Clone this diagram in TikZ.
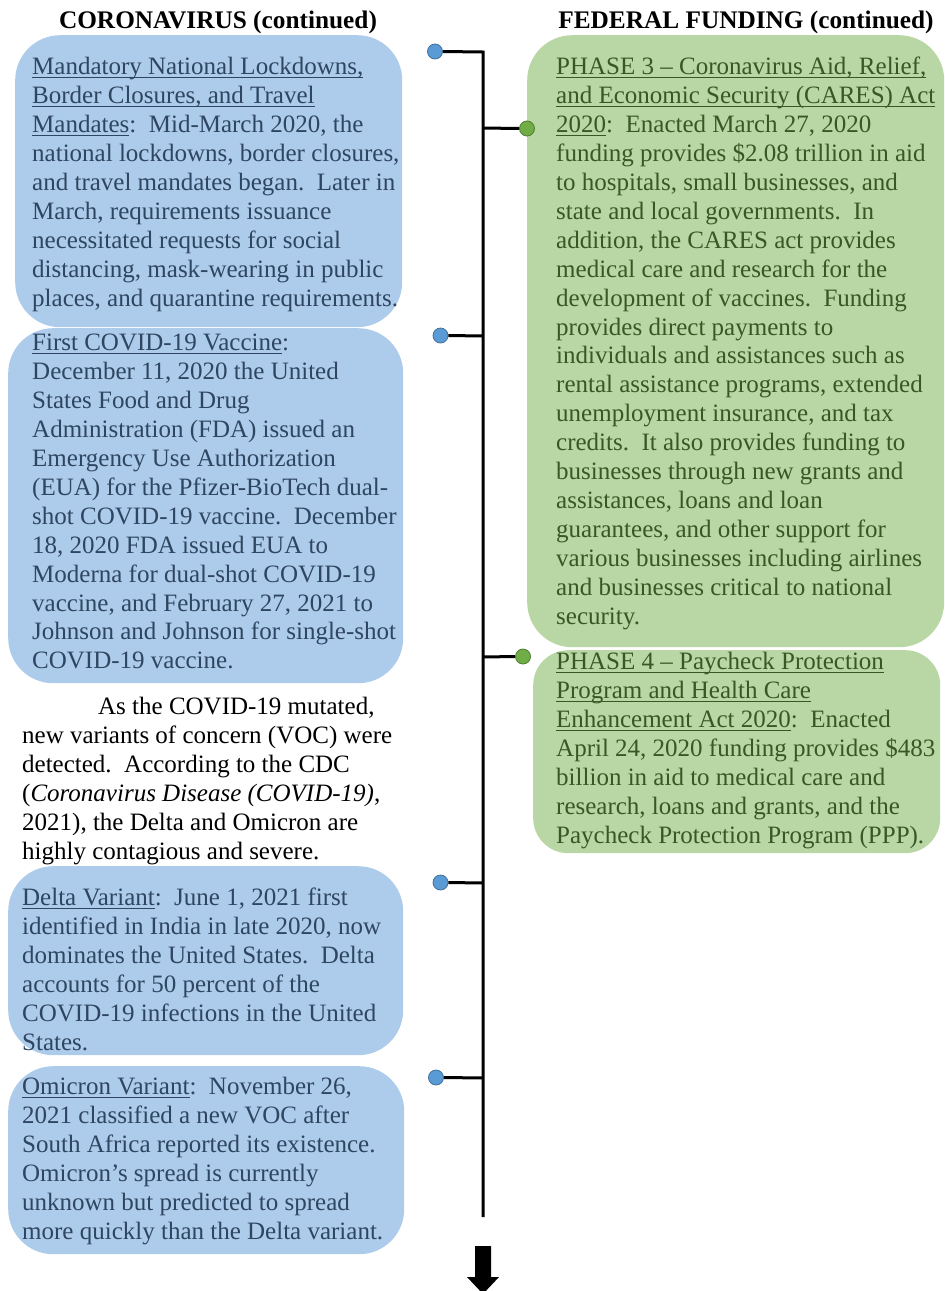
\documentclass[tikz,border=0pt]{standalone}
\usepackage{fontspec}
\setmainfont{Liberation Serif}
\definecolor{boxblue}{HTML}{ADCBEA}
\definecolor{boxgreen}{HTML}{B9D7A4}
\definecolor{txtblue}{HTML}{2E4661}
\definecolor{txtgreen}{HTML}{385723}
\definecolor{dotblue}{HTML}{5B9BD5}
\definecolor{dotblueline}{HTML}{41719C}
\definecolor{dotgreen}{HTML}{70AD47}
\definecolor{dotgreenline}{HTML}{507E32}
\newcommand\myul[1]{\setbox0\hbox{#1}\rlap{\rule[-3.5pt]{\wd0}{1.1pt}}\box0}
\tikzset{
  bluebox/.style={fill=boxblue, draw=none, rounded corners=45pt, anchor=north west, inner sep=0pt},
  greenbox/.style={fill=boxgreen, draw=none, rounded corners=45pt, anchor=north west, inner sep=0pt},
  bodytext/.style={anchor=north west, inner sep=0pt, align=left, font=\fontsize{25}{28.9}\selectfont},
  headtext/.style={anchor=base, inner sep=0pt, font=\fontsize{25.3}{28.9}\selectfont\bfseries},
  bdot/.style={circle, fill=dotblue, draw=dotblueline, line width=0.8pt, minimum size=15pt, inner sep=0pt},
  gdot/.style={circle, fill=dotgreen, draw=dotgreenline, line width=0.8pt, minimum size=15pt, inner sep=0pt},
  tl/.style={line width=3pt, black},
}
\begin{document}
\begin{tikzpicture}[x=1pt,y=-1pt]
\useasboundingbox (0,0) rectangle (945,1291);
% headers
\node[headtext] (h1) at (218,28) {CORONAVIRUS (continued)};
\node[headtext] (h2) at (746,28) {FEDERAL FUNDING (continued)};
% boxes
\node[bluebox, minimum width=387pt, minimum height=292pt] (b1) at (15,35) {};
\node[bluebox, minimum width=395pt, minimum height=355pt] (b2) at (8,328) {};
\node[bluebox, minimum width=395pt, minimum height=189pt] (b3) at (8,866) {};
\node[bluebox, minimum width=396pt, minimum height=188pt] (b4) at (8,1066) {};
\node[greenbox, minimum width=417pt, minimum height=612pt] (g1) at (527,35) {};
\node[greenbox, rounded corners=35pt, minimum width=407pt, minimum height=203pt] (g2) at (533,650) {};
% texts
\node[bodytext, text=txtblue] (t1) at (32,54.5) {\strut\myul{Mandatory National Lockdowns,}\\
\myul{Border Closures, and Travel}\\
\myul{Mandates}:\ \ Mid-March 2020, the\\
national lockdowns, border closures,\\
and travel mandates began.\ \ Later in\\
March, requirements issuance\\
necessitated requests for social\\
distancing, mask-wearing in public\\
places, and quarantine requirements.};
\node[bodytext, text=txtblue] (t2) at (32,330.5) {\strut\myul{First COVID-19 Vaccine}:\\
December 11, 2020 the United\\
States Food and Drug\\
Administration (FDA) issued an\\
Emergency Use Authorization\\
(EUA) for the Pfizer-BioTech dual-\\
shot COVID-19 vaccine.\ \ December\\
18, 2020 FDA issued EUA to\\
Moderna for dual-shot COVID-19\\
vaccine, and February 27, 2021 to\\
Johnson and Johnson for single-shot\\
COVID-19 vaccine.};
\node[bodytext, text=black] (t3) at (22,694.5) {\strut\hspace*{76pt}As the COVID-19 mutated,\\
new variants of concern (VOC) were\\
detected.\ \ According to the CDC\\
(\textit{Coronavirus Disease (COVID-19)},\\
2021), the Delta and Omicron are\\
highly contagious and severe.};
\node[bodytext, text=txtblue] (t4) at (22,885.5) {\strut\myul{Delta Variant}:\ \ June 1, 2021 first\\
identified in India in late 2020, now\\
dominates the United States.\ \ Delta\\
accounts for 50 percent of the\\
COVID-19 infections in the United\\
States.};
\node[bodytext, text=txtblue] (t5) at (22,1074.5) {\strut\myul{Omicron Variant}:\ \ November 26,\\
2021 classified a new VOC after\\
South Africa reported its existence.\\
Omicron’s spread is currently\\
unknown but predicted to spread\\
more quickly than the Delta variant.};
\node[bodytext, text=txtgreen] (t6) at (556,54.5) {\strut\myul{PHASE 3 – Coronavirus Aid, Relief,}\\
\myul{and Economic Security (CARES) Act}\\
\myul{2020}:\ \ Enacted March 27, 2020\\
funding provides \$2.08 trillion in aid\\
to hospitals, small businesses, and\\
state and local governments.\ \ In\\
addition, the CARES act provides\\
medical care and research for the\\
development of vaccines.\ \ Funding\\
provides direct payments to\\
individuals and assistances such as\\
rental assistance programs, extended\\
unemployment insurance, and tax\\
credits.\ \ It also provides funding to\\
businesses through new grants and\\
assistances, loans and loan\\
guarantees, and other support for\\
various businesses including airlines\\
and businesses critical to national\\
security.};
\node[bodytext, text=txtgreen] (t7) at (556,649.5) {\strut\myul{PHASE 4 – Paycheck Protection}\\
\myul{Program and Health Care}\\
\myul{Enhancement Act 2020}:\ \ Enacted\\
April 24, 2020 funding provides \$483\\
billion in aid to medical care and\\
research, loans and grants, and the\\
Paycheck Protection Program (PPP).};
% timeline
\coordinate (j1) at (483,52);
\coordinate (j2) at (483,128);
\coordinate (j3) at (483,336);
\coordinate (j4) at (483,657);
\coordinate (j5) at (483,883);
\coordinate (j6) at (483,1078);
\coordinate (jend) at (483,1217);
\node[bdot] (d1) at (435,51.5) {};
\node[gdot] (d2) at (527,128.5) {};
\node[bdot] (d3) at (440.5,335.5) {};
\node[gdot] (d4) at (523,656.5) {};
\node[bdot] (d5) at (440.5,882.5) {};
\node[bdot] (d6) at (436,1077.5) {};
\draw[tl] (d1.east) -- (j1) -- (jend);
\draw[tl] (j2) -- (d2.west);
\draw[tl] (d3.east) -- (j3);
\draw[tl] (j4) -- (d4.west);
\draw[tl] (d5.east) -- (j5);
\draw[tl] (d6.east) -- (j6);
% down arrow
\fill[black] (475,1246) -- (491,1246) -- (491,1277) -- (499,1277) -- (483,1294) -- (467,1277) -- (475,1277) -- cycle;
\end{tikzpicture}
\end{document}
